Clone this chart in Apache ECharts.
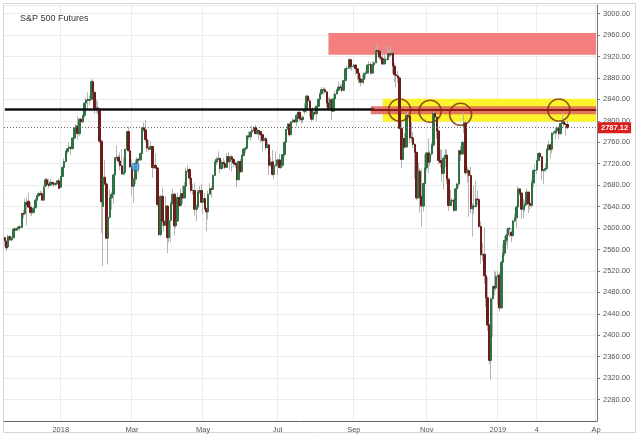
<!DOCTYPE html>
<html><head><meta charset="utf-8">
<script src="https://cdn.jsdelivr.net/npm/echarts@6/dist/echarts.min.js"></script>
<style>html,body{margin:0;padding:0;background:#fff}#c{width:640px;height:438px}</style>
</head><body><div id="c"></div>
<script>
// ---------- DATA ----------
const chartTitle = 'S&P 500 Futures';
const firstDate = '2017-11-14';
const closedDays = ['2017-12-25','2018-01-01','2018-03-30','2018-12-25','2019-01-01'];
const categoryCount = 350;
const xTickLabels = {'2018-01-02':'2018','2018-03-01':'Mar','2018-05-01':'May','2018-07-02':'Jul',
  '2018-09-03':'Sep','2018-11-01':'Nov','2019-01-02':'2019','2019-02-04':'4','2019-03-25':'Ap'};
const yMin = 2240, yMax = 3016, yStep = 40;

// daily bars: [open, close, low, high]
const nov17 = [[2582,2576,2566,2584],[2575,2563,2557,2577],[2565,2584,2563,2588],[2584,2578,2576,2587],[2578,2581,2574,2584],
 [2582,2598,2580,2600],[2598,2596,2593,2601],[2596,2599,2595,2601],[2599,2602,2597,2604],[2602,2601,2595,2606],
 [2601,2627,2600,2629],[2627,2626,2618,2634],[2627,2648,2624,2655]];
const dec17 = [[2648,2643,2605,2657],[2650,2639,2637,2666],[2639,2629,2625,2648],[2628,2629,2622,2635],[2629,2637,2628,2640],
 [2638,2652,2636,2656],[2652,2660,2650,2661],[2660,2664,2658,2668],[2664,2663,2660,2670],[2664,2652,2651,2668],
 [2652,2676,2650,2680],[2678,2690,2677,2694],[2690,2681,2679,2693],[2682,2679,2674,2691],[2680,2685,2678,2692],
 [2685,2683,2679,2687],[2683,2681,2677,2685],[2681,2683,2678,2686],[2683,2688,2681,2689],[2688,2674,2672,2693]];
const jan18 = [[2676,2696,2674,2697],[2696,2713,2695,2715],[2713,2724,2712,2730],[2724,2743,2722,2745],[2743,2748,2738,2749],
 [2748,2751,2744,2760],[2751,2748,2736,2752],[2748,2768,2747,2768],[2768,2786,2765,2788],[2786,2790,2783,2794],
 [2790,2776,2765,2809],[2776,2803,2771,2805],[2803,2798,2790,2806],[2798,2810,2795,2811],[2810,2833,2806,2834],
 [2833,2839,2830,2843],[2840,2838,2822,2853],[2838,2839,2829,2847],[2840,2873,2838,2878],[2873,2854,2850,2876],
 [2853,2822,2813,2855],[2822,2824,2815,2840]];
const feb18 = [[2824,2822,2812,2836],[2822,2762,2758,2824],[2762,2649,2591,2765],[2640,2695,2529,2702],[2695,2682,2679,2727],
 [2682,2581,2580,2686],[2581,2620,2532,2638],[2620,2656,2617,2672],[2656,2663,2634,2668],[2663,2699,2645,2702],
 [2699,2731,2697,2731],[2731,2732,2726,2754],[2732,2725,2720,2736],[2725,2716,2708,2741],[2716,2701,2699,2747],
 [2701,2704,2698,2731],[2704,2747,2703,2748],[2747,2780,2747,2780],[2780,2744,2743,2789],[2744,2714,2712,2762]];
const mar18 = [[2714,2678,2659,2728],[2678,2691,2647,2694],[2691,2721,2682,2728],[2721,2728,2719,2732],[2728,2727,2702,2731],
 [2727,2739,2725,2741],[2739,2787,2738,2787],[2787,2783,2779,2797],[2783,2765,2760,2802],[2765,2749,2741,2775],
 [2749,2747,2743,2764],[2747,2752,2747,2762],[2752,2713,2694,2753],[2713,2717,2710,2725],[2717,2712,2710,2739],
 [2712,2644,2640,2713],[2644,2588,2585,2657],[2588,2659,2584,2662],[2659,2613,2603,2675],[2613,2605,2594,2632],
 [2605,2641,2604,2659]];
const apr18 = [[2641,2582,2553,2643],[2582,2614,2573,2618],[2614,2645,2574,2649],[2645,2663,2645,2673],[2663,2604,2586,2666],
 [2604,2613,2600,2654],[2613,2657,2612,2666],[2657,2642,2639,2662],[2642,2664,2643,2674],[2664,2656,2645,2680],
 [2656,2678,2656,2686],[2678,2706,2678,2713],[2706,2709,2702,2717],[2709,2693,2681,2712],[2693,2670,2666,2694],
 [2670,2670,2662,2682],[2670,2635,2623,2684],[2635,2639,2613,2645],[2639,2667,2638,2672],[2667,2670,2663,2678],
 [2670,2648,2647,2682]];
const may18 = [[2648,2655,2626,2655],[2655,2636,2633,2665],[2636,2630,2594,2638],[2630,2663,2616,2670],[2663,2673,2663,2684],
 [2673,2672,2656,2677],[2672,2698,2672,2701],[2698,2723,2697,2726],[2723,2728,2717,2733],[2728,2730,2726,2743],
 [2730,2711,2702,2731],[2711,2722,2708,2727],[2722,2720,2712,2731],[2720,2713,2710,2726],[2713,2733,2713,2740],
 [2733,2724,2721,2742],[2724,2733,2708,2734],[2733,2728,2705,2736],[2728,2721,2714,2730],[2721,2718,2712,2723],
 [2718,2690,2676,2720],[2690,2724,2690,2726],[2724,2705,2703,2729]];
const jun18 = [[2705,2735,2705,2737],[2735,2747,2734,2750],[2747,2749,2740,2752],[2749,2772,2747,2773],[2772,2770,2765,2780],
 [2770,2779,2763,2780],[2779,2782,2778,2791],[2782,2787,2780,2790],[2787,2776,2775,2792],[2776,2782,2774,2786],
 [2782,2780,2764,2782],[2780,2774,2759,2781],[2774,2763,2743,2776],[2763,2767,2763,2774],[2767,2750,2745,2770],
 [2750,2755,2750,2764],[2755,2717,2699,2756],[2717,2723,2714,2733],[2723,2700,2698,2746],[2700,2716,2692,2725],
 [2716,2718,2716,2743]];
const jul18 = [[2718,2727,2699,2729],[2727,2713,2711,2738],[2713,2717,2710,2719],[2717,2737,2714,2738],[2737,2760,2733,2762],
 [2760,2784,2760,2784],[2784,2794,2784,2796],[2794,2774,2770,2795],[2774,2798,2774,2800],[2798,2801,2796,2805],
 [2801,2798,2796,2803],[2798,2810,2789,2814],[2810,2816,2806,2817],[2816,2804,2799,2816],[2804,2802,2796,2810],
 [2802,2807,2795,2809],[2817,2820,2812,2833],[2820,2846,2815,2848],[2846,2837,2835,2848],[2837,2819,2808,2843],
 [2819,2803,2799,2821],[2803,2816,2802,2825]];
const aug18 = [[2816,2813,2809,2826],[2813,2827,2799,2829],[2827,2840,2826,2841],[2840,2850,2834,2853],[2850,2858,2850,2863],
 [2858,2858,2851,2862],[2858,2854,2851,2862],[2854,2833,2826,2854],[2833,2822,2819,2843],[2822,2840,2822,2844],
 [2840,2818,2802,2840],[2818,2841,2818,2850],[2841,2850,2833,2856],[2850,2857,2849,2860],[2857,2863,2855,2873],
 [2863,2862,2857,2868],[2862,2857,2853,2869],[2857,2875,2856,2876],[2875,2897,2875,2898],[2897,2898,2894,2904],
 [2898,2914,2897,2916],[2914,2901,2895,2916],[2901,2902,2893,2907]];
const sep18 = [[2902,2904,2899,2906],[2904,2897,2885,2905],[2897,2889,2875,2898],[2889,2878,2869,2892],[2878,2872,2864,2885],
 [2872,2877,2870,2886],[2877,2888,2868,2890],[2888,2889,2880,2894],[2889,2904,2889,2906],[2904,2905,2898,2911],
 [2905,2889,2886,2909],[2889,2904,2888,2911],[2904,2908,2900,2912],[2908,2931,2908,2935],[2931,2930,2926,2945],
 [2930,2919,2914,2932],[2919,2916,2913,2927],[2916,2906,2904,2932],[2906,2914,2906,2925],[2914,2914,2906,2919]];
const oct18 = [[2914,2925,2913,2940],[2925,2923,2918,2932],[2923,2926,2920,2940],[2926,2902,2888,2929],[2902,2886,2872,2908],
 [2886,2884,2863,2894],[2884,2880,2870,2893],[2880,2786,2784,2882],[2786,2728,2712,2797],[2728,2767,2728,2776],
 [2767,2751,2748,2777],[2751,2810,2751,2813],[2810,2809,2781,2816],[2809,2769,2758,2811],[2769,2768,2759,2797],
 [2768,2756,2749,2779],[2756,2741,2692,2758],[2741,2656,2652,2743],[2656,2706,2655,2722],[2706,2659,2628,2712],
 [2659,2641,2603,2710],[2641,2683,2631,2685],[2683,2712,2683,2737]];
const nov18 = [[2712,2740,2706,2742],[2740,2723,2702,2767],[2723,2738,2716,2744],[2738,2755,2735,2759],[2755,2814,2751,2816],
 [2814,2807,2800,2816],[2807,2781,2766,2808],[2781,2726,2719,2784],[2726,2722,2713,2747],[2722,2702,2686,2746],
 [2702,2730,2672,2734],[2730,2736,2714,2747],[2736,2691,2682,2747],[2691,2642,2632,2694],[2642,2650,2641,2671],
 [2650,2652,2646,2656],[2652,2633,2631,2654],[2633,2673,2633,2675],[2673,2682,2656,2685],[2682,2744,2675,2746],
 [2744,2738,2725,2753],[2738,2760,2736,2763]];
const dec18 = [[2790,2796,2777,2816],[2796,2703,2698,2800],[2703,2707,2685,2714],[2707,2698,2621,2710],[2698,2636,2627,2714],
 [2636,2641,2584,2646],[2641,2640,2626,2679],[2640,2654,2638,2688],[2654,2653,2642,2670],[2653,2603,2600,2655],
 [2603,2550,2533,2612],[2550,2551,2538,2573],[2551,2511,2496,2600],[2511,2470,2453,2520],[2470,2419,2408,2508],
 [2419,2353,2346,2421],[2353,2468,2317,2470],[2468,2491,2397,2492],[2491,2488,2475,2521],[2488,2510,2484,2518]];
const jan19 = [[2510,2512,2457,2520],[2512,2451,2444,2517],[2451,2536,2450,2540],[2536,2553,2523,2569],[2553,2577,2547,2585],
 [2577,2587,2569,2598],[2587,2599,2561,2601],[2599,2599,2583,2602],[2592,2586,2574,2598],[2586,2613,2583,2616],
 [2613,2619,2610,2627],[2619,2639,2600,2643],[2639,2673,2639,2678],[2673,2665,2660,2675],[2665,2635,2617,2668],
 [2635,2641,2618,2654],[2641,2644,2630,2651],[2644,2667,2644,2674],[2667,2646,2628,2667],[2646,2642,2634,2657],
 [2642,2684,2638,2690],[2684,2707,2676,2710]];
const feb19 = [[2707,2708,2695,2719],[2708,2726,2700,2727],[2726,2739,2724,2741],[2739,2733,2726,2742],[2733,2707,2689,2734],
 [2707,2709,2682,2710],[2709,2711,2704,2721],[2711,2746,2711,2749],[2746,2755,2745,2763],[2755,2747,2730,2758],
 [2747,2777,2740,2778],[2777,2778,2773,2781],[2778,2781,2766,2787],[2781,2787,2775,2790],[2787,2776,2766,2789],
 [2776,2795,2774,2795],[2795,2798,2794,2815],[2798,2794,2788,2802],[2794,2793,2772,2797],[2793,2787.12,2785,2800]];

// annotations (data coordinates)
const resistanceZone = {from:'2018-08-13', low:2923, high:2964};
const yellowZone     = {from:'2018-09-26', low:2798, high:2841};
const redBand        = {from:'2018-09-17', low:2812, high:2827, level:2820};
const blackLine      = {from:'2017-11-14', to:'2018-09-19', level:2822};
const circleMarks    = [['2018-10-10',2820],['2018-11-05',2818],['2018-11-29',2812],['2019-02-21',2820]];
const eventMarks     = [['2018-03-05',2714]];

// ---------- BUILD ----------
const bars = [].concat(nov17,dec17,jan18,feb18,mar18,apr18,may18,jun18,jul18,aug18,sep18,oct18,nov18,dec18,jan19,feb19);
const dates = [];
(function(){
  const d = new Date(firstDate + 'T00:00:00Z');
  while (dates.length < categoryCount) {
    const wd = d.getUTCDay(), s = d.toISOString().slice(0,10);
    if (wd !== 0 && wd !== 6 && closedDays.indexOf(s) < 0) dates.push(s);
    d.setUTCDate(d.getUTCDate() + 1);
  }
})();
const lastDate = dates[dates.length - 1];
const lastClose = bars[bars.length - 1][1];
const bodies = bars.map(b => [b[0], b[1], Math.min(b[0], b[1]), Math.max(b[0], b[1])]);
const isTick = (i, v) => xTickLabels[v] !== undefined;
const font = "'Liberation Sans', Arial, sans-serif";

const chart = echarts.init(document.getElementById('c'), null, {renderer:'canvas'});
chart.setOption({
  animation: false,
  backgroundColor: '#fff',
  title: {text: chartTitle, left: 15, top: 9, textStyle: {fontSize: 9, fontWeight: 'normal', color: '#333', fontFamily: font}},
  graphic: [{type:'rect', shape:{x:3.5, y:3.5, width:632, height:429}, style:{fill:'none', stroke:'#d6d6d6', lineWidth:1}, silent:true, z:-1}],
  grid: {left: 4, right: 43, top: 5, bottom: 17},
  xAxis: {
    type: 'category', data: dates,
    axisLine: {lineStyle: {color: '#666'}},
    axisTick: {alignWithLabel: true, interval: isTick, length: 3, lineStyle: {color: '#666'}},
    axisLabel: {interval: isTick, formatter: v => xTickLabels[v] || '', fontSize: 7.5, color: '#555', margin: 5, fontFamily: font},
    splitLine: {show: true, interval: isTick, lineStyle: {color: '#ececec'}}
  },
  yAxis: {
    type: 'value', position: 'right', min: yMin, max: yMax, interval: yStep, scale: true,
    axisLine: {show: true, lineStyle: {color: '#777'}},
    axisTick: {show: true, length: 3, lineStyle: {color: '#777'}},
    axisLabel: {formatter: v => v.toFixed(2), fontSize: 7.5, color: '#555', margin: 6, showMinLabel: false, showMaxLabel: false, fontFamily: font},
    splitLine: {lineStyle: {color: '#ececec'}}
  },
  series: [
    {
      name: 'wicks', type: 'candlestick', data: bars, barWidth: 1,
      itemStyle: {color: '#b5b5b5', color0: '#b5b5b5', borderColor: '#b5b5b5', borderColor0: '#b5b5b5', borderColorDoji: '#b5b5b5', borderWidth: 1},
      markArea: {
        silent: true,
        data: [
          [{coord: [resistanceZone.from, resistanceZone.high], itemStyle: {color: '#f47f7f'}}, {coord: [lastDate, resistanceZone.low]}],
          [{coord: [yellowZone.from, yellowZone.high], itemStyle: {color: '#fbf42c'}}, {coord: [lastDate, yellowZone.low]}],
          [{coord: [redBand.from, redBand.high], itemStyle: {color: 'rgba(222,96,96,0.85)'}}, {coord: [lastDate, redBand.low]}]
        ]
      }
    },
    {
      name: 'candles', type: 'candlestick', data: bodies, barWidth: 2,
      itemStyle: {color: '#2e7245', color0: '#6e1d1a', borderColor: '#2e7245', borderColor0: '#6e1d1a', borderColorDoji: '#444', borderWidth: 1},
      markLine: {
        silent: true, symbol: 'none', label: {show: false},
        data: [
          [{coord: [blackLine.from, blackLine.level], lineStyle: {color: '#111', width: 2.5, type: 'solid'}}, {coord: [blackLine.to, blackLine.level]}],
          [{coord: [redBand.from, redBand.level], lineStyle: {color: '#8a1a14', width: 2, type: 'solid'}}, {coord: [lastDate, redBand.level]}],
          {yAxis: lastClose, lineStyle: {color: '#666', width: 1, type: [1, 2]},
           label: {show: true, position: 'end', distance: 1, formatter: () => lastClose.toFixed(2),
                   backgroundColor: '#d9201c', color: '#fff', fontSize: 7.5, fontWeight: 'bold', padding: [2, 3, 1, 3], fontFamily: font}}
        ]
      }
    },
    {
      name: 'circles', type: 'scatter', data: circleMarks, symbol: 'circle', symbolSize: 22, z: 10, silent: true,
      itemStyle: {color: 'rgba(0,0,0,0)', borderColor: '#7b2c12', borderWidth: 1.5}
    },
    {
      name: 'events', type: 'scatter', data: eventMarks, symbol: 'roundRect', symbolSize: 7, z: 9, silent: true,
      itemStyle: {color: '#4aa3df', borderColor: '#1f6fb0', borderWidth: 1}
    }
  ]
});
</script></body></html>
